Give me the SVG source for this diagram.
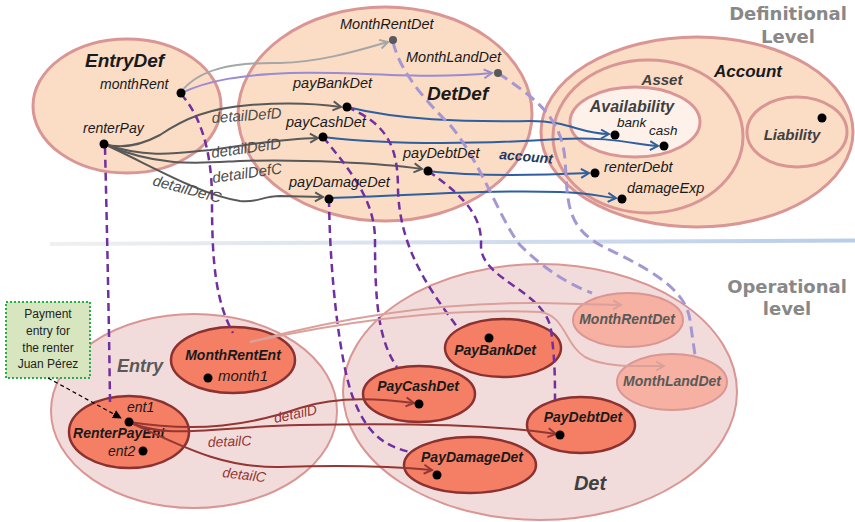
<svg xmlns="http://www.w3.org/2000/svg" width="855" height="522" viewBox="0 0 855 522">
<defs>
<style>
.t{font-family:"Liberation Sans",Arial,sans-serif;font-style:italic;fill:#1a1a1a}
.b{font-weight:bold}
.big{font-family:"DejaVu Sans","Liberation Sans",sans-serif;font-weight:bold;fill:#888888;font-size:18px;text-anchor:middle}
.c{text-anchor:middle}
.peach{fill:#fbdcc5;stroke:#d99694;stroke-width:3}
.pink{fill:#f2dcdb;stroke:#d99694;stroke-width:2}
.sal{fill:#f47f64;stroke:#8c3131;stroke-width:2.5}
.lt{fill:#f6b1a2;stroke:#d99694;stroke-width:2}
.dot{fill:#000}
.gdot{fill:#595959}
.con{fill:none}
.g1{stroke:#595959;stroke-width:2}
.g2{stroke:#a6a6a6;stroke-width:2}
.lav{stroke:#9b8bd0;stroke-width:2}
.blu{stroke:#2f5f9e;stroke-width:2}
.red{stroke:#943634;stroke-width:2}
.lp{stroke:#dca09c;stroke-width:2}
.pd{stroke:#7030a0;stroke-width:2.5;stroke-dasharray:8 5}
.ld{stroke:#a597d2;stroke-width:3;stroke-dasharray:11 6}
</style>
<marker id="mG1" viewBox="0 0 12 12" refX="10" refY="6" markerWidth="12" markerHeight="12" markerUnits="userSpaceOnUse" orient="auto"><path d="M2,1.5 L10,6 L2,10.5" fill="none" stroke="#595959" stroke-width="2"/></marker>
<marker id="mG2" viewBox="0 0 12 12" refX="10" refY="6" markerWidth="12" markerHeight="12" markerUnits="userSpaceOnUse" orient="auto"><path d="M2,1.5 L10,6 L2,10.5" fill="none" stroke="#a6a6a6" stroke-width="2"/></marker>
<marker id="mLav" viewBox="0 0 12 12" refX="10" refY="6" markerWidth="12" markerHeight="12" markerUnits="userSpaceOnUse" orient="auto"><path d="M2,1.5 L10,6 L2,10.5" fill="none" stroke="#9b8bd0" stroke-width="2"/></marker>
<marker id="mBlu" viewBox="0 0 12 12" refX="10" refY="6" markerWidth="12" markerHeight="12" markerUnits="userSpaceOnUse" orient="auto"><path d="M2,1.5 L10,6 L2,10.5" fill="none" stroke="#2f5f9e" stroke-width="2"/></marker>
<marker id="mRed" viewBox="0 0 12 12" refX="10" refY="6" markerWidth="12" markerHeight="12" markerUnits="userSpaceOnUse" orient="auto"><path d="M2,1.5 L10,6 L2,10.5" fill="none" stroke="#943634" stroke-width="2"/></marker>
<marker id="mLp" viewBox="0 0 12 12" refX="10" refY="6" markerWidth="12" markerHeight="12" markerUnits="userSpaceOnUse" orient="auto"><path d="M2,1.5 L10,6 L2,10.5" fill="none" stroke="#dca09c" stroke-width="2"/></marker>
<marker id="mBk" viewBox="0 0 10 10" refX="9" refY="5" markerWidth="9" markerHeight="9" markerUnits="userSpaceOnUse" orient="auto"><path d="M0,0 L10,5 L0,10 Z" fill="#000"/></marker>
<linearGradient id="sep" gradientUnits="userSpaceOnUse" x1="50" y1="0" x2="855" y2="0">
<stop offset="0" stop-color="#f0f0f0"/><stop offset="0.25" stop-color="#e2e8f0"/><stop offset="1" stop-color="#b9cde8"/>
</linearGradient>
</defs>
<rect width="855" height="522" fill="#fff"/>
<line x1="50" y1="244" x2="855" y2="240.5" stroke="url(#sep)" stroke-width="4"/>
<text class="big" x="788" y="20">Definitional</text>
<text class="big" x="788" y="43">Level</text>
<text class="big" x="787" y="293">Operational</text>
<text class="big" x="787" y="315">level</text>

<!-- definitional containers -->
<g id="EntryDef"><ellipse class="peach" cx="127" cy="106" rx="94" ry="67"/><text class="t b" x="85" y="67" font-size="19">EntryDef</text></g>
<g id="DetDef"><ellipse class="peach" cx="385" cy="114" rx="147" ry="107"/><text class="t b" x="427" y="100" font-size="19">DetDef</text></g>
<g id="Account"><ellipse class="peach" cx="697" cy="132" rx="156" ry="95"/><text class="t b c" x="748" y="77" font-size="17">Account</text></g>
<g id="Asset"><ellipse class="peach" cx="648" cy="136.5" rx="95" ry="76.5"/><text class="t b c" x="662" y="85" font-size="15" style="fill:#404040">Asset</text></g>
<g id="Availability"><ellipse cx="635" cy="122" rx="65" ry="35" fill="#fdf1ea" stroke="#d99694" stroke-width="3"/><text class="t b c" x="632" y="112" font-size="16" style="fill:#404040">Availability</text></g>
<g id="Liability"><ellipse class="peach" cx="797" cy="132" rx="50" ry="35"/><text class="t b c" x="792" y="140" font-size="15" style="fill:#404040">Liability</text></g>

<!-- operational containers -->
<g id="Entry"><ellipse class="pink" cx="194" cy="411" rx="143" ry="97"/><text class="t b" x="117" y="372" font-size="18" style="fill:#595959">Entry</text></g>
<g id="Det"><ellipse class="pink" cx="540" cy="392" rx="197" ry="128"/><text class="t b c" x="590" y="490" font-size="20" style="fill:#404040">Det</text></g>
<g id="MonthRentEnt"><ellipse class="sal" cx="233" cy="360" rx="62" ry="33"/><text class="t b c" x="233" y="360" font-size="14">MonthRentEnt</text></g>
<g id="RenterPayEnt"><ellipse class="sal" cx="129" cy="432" rx="60" ry="36"/><text class="t b c" x="119" y="438" font-size="14">RenterPayEnt</text></g>
<g id="PayBankDet"><ellipse class="sal" cx="503" cy="348" rx="58" ry="29"/><text class="t b c" x="495" y="355" font-size="14">PayBankDet</text></g>
<g id="PayCashDet"><ellipse class="sal" cx="419" cy="394" rx="56" ry="28"/><text class="t b c" x="418" y="391" font-size="14">PayCashDet</text></g>
<g id="PayDebtDet"><ellipse class="sal" cx="581" cy="425" rx="54" ry="28"/><text class="t b c" x="583" y="422" font-size="14">PayDebtDet</text></g>
<g id="PayDamageDet"><ellipse class="sal" cx="470" cy="465" rx="66" ry="28"/><text class="t b c" x="472" y="462" font-size="14">PayDamageDet</text></g>
<g id="MonthRentDetOp"><ellipse class="lt" cx="628" cy="320" rx="55" ry="27"/><text class="t b c" x="627" y="324" font-size="14" style="fill:#595959">MonthRentDet</text></g>
<g id="MonthLandDetOp"><ellipse class="lt" cx="672" cy="382" rx="55" ry="28"/><text class="t b c" x="672" y="386" font-size="14" style="fill:#595959">MonthLandDet</text></g>

<g id="note"><rect x="6" y="302" width="84" height="76" fill="#d8e6c0" stroke="#22b04b" stroke-width="2" stroke-dasharray="2 2"/>
<text font-family="Liberation Sans,Arial,sans-serif" font-size="12" fill="#222" text-anchor="middle"><tspan x="48" y="318">Payment</tspan><tspan x="48" y="335">entry for</tspan><tspan x="48" y="352">the renter</tspan><tspan x="48" y="368">Juan Pérez</tspan></text></g>

<!-- connectors -->
<g id="connectors" class="con">
<path class="g2" d="M181,92 C198,70 230,62 280,63 C322,62 360,50 388,42" marker-end="url(#mG2)"/>
<path class="lav" d="M181,93 C210,80 240,75 290,73 C360,71 420,80 492,73" marker-end="url(#mLav)"/>
<path class="g1" d="M104,144 C125,150 145,143 160,135 C185,118 210,108 250,105 C290,102 320,104 341,107" marker-end="url(#mG1)"/>
<path class="g1" d="M104,144 C150,160 185,152 210,150 C245,145 280,139 318,138" marker-end="url(#mG1)"/>
<path class="g1" d="M104,144 C160,168 200,163 240,161 C300,159 380,163 422,169" marker-end="url(#mG1)"/>
<path class="g1" d="M104,144 C150,165 200,195 240,201 C258,203 262,196 280,196 L323,197" marker-end="url(#mG1)"/>
<path class="blu" d="M347,107 C400,120 460,122 530,121 C570,121 580,134 609,134" marker-end="url(#mBlu)"/>
<path class="blu" d="M323,137 C400,146 480,144 560,139 C610,136 638,145 658,146" marker-end="url(#mBlu)"/>
<path class="blu" d="M428,171 C470,176 520,176 589,173" marker-end="url(#mBlu)"/>
<path class="blu" d="M329,198 C420,195 480,190 560,192 C590,193 603,197 616,198" marker-end="url(#mBlu)"/>
<path class="pd" d="M105,147 C107,230 109,320 110,402"/>
<path class="pd" d="M181,94 C200,115 212,150 212,200 C212,260 215,300 233,333"/>
<path class="pd" d="M347,107 C390,125 398,150 398,190 C400,250 430,290 458,328"/>
<path class="pd" d="M323,137 C350,170 375,200 375,240 C375,300 378,340 397,367"/>
<path class="pd" d="M329,199 C330,280 340,360 352,395 C365,430 380,445 410,452"/>
<path class="pd" d="M428,171 C470,200 482,220 481,245 C480,280 545,290 551,330 C555,360 555,380 555,400"/>
<path class="ld" d="M393,42 C400,70 420,95 450,125 C480,160 500,220 520,245 C545,270 570,285 592,293"/>
<path class="ld" d="M498,73 C530,95 562,115 565,160 C568,200 565,225 600,245 C640,265 685,285 690,320 L695,355"/>
<path class="lp" d="M250,342 C350,315 450,302 540,303 L621,305" marker-end="url(#mLp)"/>
<path class="lp" d="M250,342 C350,320 450,308 540,312 C565,315 565,345 585,357 C605,368 640,366 664,366" marker-end="url(#mLp)"/>
<path class="red" d="M129,422 C200,433 250,425 300,408 C330,398 370,397 414,403" marker-end="url(#mRed)"/>
<path class="red" d="M129,422 C170,440 210,427 300,425 C400,423 500,425 556,434" marker-end="url(#mRed)"/>
<path class="red" d="M129,422 C180,445 220,468 280,467 C340,465 390,466 432,470" marker-end="url(#mRed)"/>
<path d="M48,378 L121,418" stroke="#000" stroke-width="1.2" stroke-dasharray="4 3" marker-end="url(#mBk)"/>
</g>

<!-- connector labels -->
<g id="labels" class="t" font-size="15" style="fill:#4d4d4d">
<text x="212" y="123" transform="rotate(-4 212 123)">detailDefD</text>
<text x="212" y="158" transform="rotate(-8 212 158)">detailDefD</text>
<text x="213" y="183" transform="rotate(-8 213 183)">detailDefC</text>
<text x="152" y="185" transform="rotate(15 152 185)">detailDefC</text>
<text x="499" y="159" transform="rotate(5 499 159)" class="b" font-size="14" style="fill:#1f3864">account</text>
<text x="275" y="423" transform="rotate(-12 275 423)" font-size="14" style="fill:#943634">detailD</text>
<text x="208" y="447" transform="rotate(-2 208 447)" font-size="14" style="fill:#943634">detailC</text>
<text x="222" y="477" transform="rotate(7 222 477)" font-size="14" style="fill:#943634">detailC</text>
</g>

<!-- point nodes -->
<g id="monthRent"><circle class="dot" cx="181" cy="93" r="4.5"/><text class="t" x="100" y="89" font-size="14">monthRent</text></g>
<g id="renterPay"><circle class="dot" cx="104" cy="144" r="4.5"/><text class="t" x="83" y="133" font-size="14">renterPay</text></g>
<g id="MonthRentDet"><circle class="gdot" cx="393" cy="40" r="4"/><text class="t" x="340" y="29" font-size="14.5">MonthRentDet</text></g>
<g id="MonthLandDet"><circle class="gdot" cx="498" cy="73" r="4"/><text class="t" x="406" y="62" font-size="14.5">MonthLandDet</text></g>
<g id="payBankDet"><circle class="dot" cx="347" cy="107" r="4.5"/><text class="t" x="293" y="88" font-size="14.5">payBankDet</text></g>
<g id="payCashDet"><circle class="dot" cx="323" cy="137" r="4.5"/><text class="t" x="286" y="127" font-size="14.5">payCashDet</text></g>
<g id="payDebtDet"><circle class="dot" cx="428" cy="171" r="4.5"/><text class="t" x="403" y="158" font-size="14.5">payDebtDet</text></g>
<g id="payDamageDet"><circle class="dot" cx="329" cy="199" r="4.5"/><text class="t" x="289" y="187" font-size="14.5">payDamageDet</text></g>
<g id="bank"><circle class="dot" cx="615" cy="135" r="4.5"/><text class="t" x="617" y="127" font-size="13.5">bank</text></g>
<g id="cash"><circle class="dot" cx="664" cy="146" r="4.5"/><text class="t" x="649" y="135" font-size="13.5">cash</text></g>
<g id="renterDebt"><circle class="dot" cx="595" cy="173" r="4.5"/><text class="t" x="604" y="172" font-size="14.5">renterDebt</text></g>
<g id="damageExp"><circle class="dot" cx="622" cy="199" r="4.5"/><text class="t" x="627" y="193" font-size="14.5">damageExp</text></g>
<g id="liabilityPt"><circle class="dot" cx="822" cy="118" r="4.5"/></g>
<g id="month1"><circle class="dot" cx="208" cy="378" r="4.5"/><text class="t" x="218" y="381" font-size="15">month1</text></g>
<g id="ent1"><circle class="dot" cx="129" cy="422" r="4.5"/><text class="t" x="127" y="412" font-size="14">ent1</text></g>
<g id="ent2"><circle class="dot" cx="143" cy="451" r="4.5"/><text class="t" x="108" y="456" font-size="14">ent2</text></g>
<g id="payBankPt"><circle class="dot" cx="489" cy="338" r="4.5"/></g>
<g id="payCashPt"><circle class="dot" cx="419" cy="404" r="4.5"/></g>
<g id="payDebtPt"><circle class="dot" cx="560" cy="435" r="4.5"/></g>
<g id="payDamagePt"><circle class="dot" cx="437" cy="475" r="4.5"/></g>
</svg>
